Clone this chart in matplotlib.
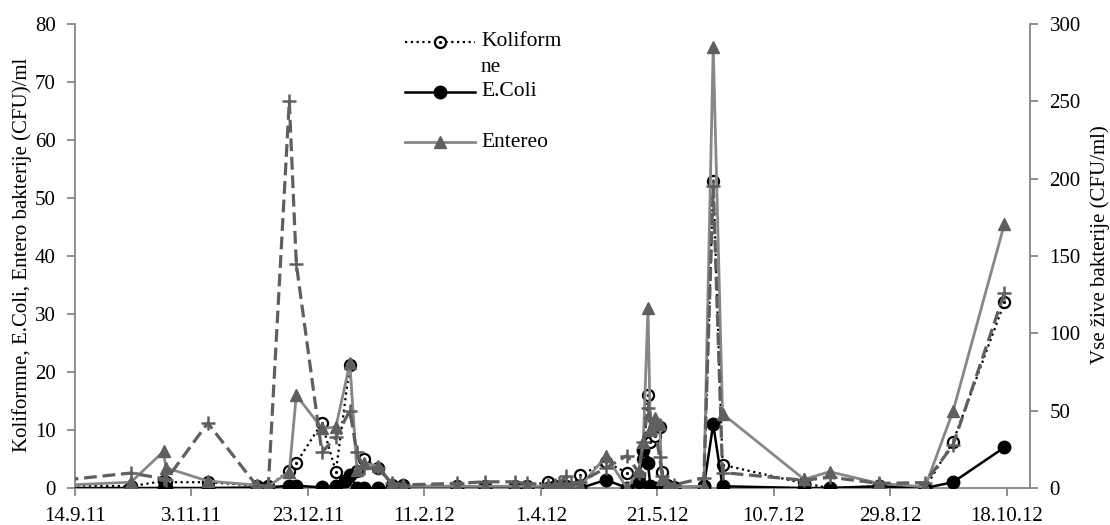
import numpy as np
import matplotlib
matplotlib.use("Agg")
import matplotlib.pyplot as plt
from matplotlib.lines import Line2D
from matplotlib.ticker import FixedLocator, FuncFormatter
import matplotlib.dates as mdates
from datetime import datetime, timedelta

# ---------------- data ----------------
dates = ["10.9.2011", "8.10.2011", "22.10.2011", "23.10.2011", "10.11.2011",
         "1.12.2011", "6.12.2011", "15.12.2011", "18.12.2011", "29.12.2011",
         "4.1.2012", "8.1.2012", "10.1.2012", "13.1.2012", "16.1.2012",
         "22.1.2012", "28.1.2012", "2.2.2012", "25.2.2012", "8.3.2012",
         "21.3.2012", "26.3.2012", "4.4.2012", "7.4.2012", "9.4.2012",
         "12.4.2012", "14.4.2012", "18.4.2012", "29.4.2012", "8.5.2012",
         "13.5.2012", "15.5.2012", "17.5.2012", "18.5.2012", "20.5.2012",
         "22.5.2012", "23.5.2012", "25.5.2012", "28.5.2012", "10.6.2012",
         "14.6.2012", "18.6.2012", "23.7.2012", "3.8.2012", "24.8.2012",
         "13.9.2012", "25.9.2012", "17.10.2012"]

nan = np.nan
koliformne = [0.5, 0.3, 1.2, 1.0, 1.0,
              0.4, 0.3, 3.0, 4.3, 11.2,
              2.8, nan, 21.2, 3.0, 5.0,
              3.5, 0.6, 0.5, 0.3, 0.3,
              0.3, 0.4, 1.0, 0.3, 0.2,
              0.3, 0.2, 2.2, 4.5, 2.6,
              2.0, 5.0, 16.0, 8.0, 9.0,
              10.5, 2.8, 0.5, 0.2, 0.3,
              53.0, 4.0, 0.8, 0.0, 0.3,
              0.0, 8.0, 32.0]
ecoli = [0.0, 0.0, 0.0, 0.0, 0.0,
         0.1, 0.1, 0.4, 0.4, 0.1,
         0.4, 1.2, 2.2, 0.0, 0.0,
         0.0, 0.0, 0.0, 0.0, 0.0,
         0.0, 0.0, 0.0, 0.0, 0.0,
         0.0, 0.0, 0.0, 1.4, 0.0,
         1.0, 6.5, 4.3, 0.3, 0.0,
         0.0, 0.0, 0.0, 0.0, 0.3,
         11.0, 0.3, 0.0, 0.0, 0.3,
         0.0, 1.0, 7.0]
entereo = [0.5, 1.0, 6.3, 3.5, 1.2,
           0.5, 0.3, 2.8, 16.0, 10.3,
           10.5, nan, 21.5, 3.1, 4.3,
           3.8, 0.8, 0.3, 0.3, 0.3,
           0.3, 0.3, 0.3, 0.2, 0.2,
           0.3, 0.2, 0.3, 5.5, 0.0,
           3.0, 8.0, 31.0, 10.0, 12.0,
           11.0, 1.5, 0.3, 0.2, 0.3,
           76.0, 12.8, 1.5, 2.8, 0.8,
           0.2, 13.3, 45.5]
vse_zive = [5.2, 9.7, 6.0, 5.0, 42.0,
            1.5, 1.5, 250.0, 145.0, 23.0,
            33.0, nan, 50.0, 23.0, 13.0,
            13.0, 3.0, 2.0, 3.0, 4.0,
            4.0, 3.0, 2.0, 2.0, 3.0,
            8.0, 3.0, 4.0, 13.0, 21.0,
            10.0, 30.0, 52.0, 45.0, 38.0,
            20.0, 8.0, 3.0, 2.0, 6.5,
            195.0, 10.0, 5.0, 7.0, 3.0,
            3.5, 28.0, 126.0]

legend_lines = [["Koliform", "ne"], ["E.Coli"], ["Entereo"]]
left_label = "Koliformne, E.Coli, Entero bakterije (CFU)/ml"
right_label = "Vse žive bakterije (CFU/ml)"
x_start = "14.9.2011"
x_end = "28.10.2012"
tick_step_days = 50
n_xticks = 9
left_ticks = list(range(0, 81, 10))
right_ticks = list(range(0, 301, 50))

# ---------------- figure ----------------
plt.rcParams["font.family"] = ["Liberation Serif", "DejaVu Serif"]

def pdate(s):
    return datetime.strptime(s, "%d.%m.%Y")

d = np.array([mdates.date2num(pdate(s)) for s in dates])

W, H = 1110, 525
fig = plt.figure(figsize=(W / 100, H / 100), dpi=100)
L, R, T, B = 75, 1030, 24, 488
ax = fig.add_axes([L / W, 1 - B / H, (R - L) / W, (B - T) / H])
ax2 = ax.twinx()

def plot_series(axis, vals, **kw):
    v = np.array(vals, dtype=float)
    m = ~np.isnan(v)
    return axis.plot(d[m], v[m], clip_on=True, **kw)

kol_style = dict(color="black", ls=(0, (1, 1.6)), lw=1.6, marker="o", ms=8,
                 mfc="white", mec="black", mew=1.6)
eco_style = dict(color="black", ls="-", lw=1.8, marker="o", ms=9,
                 mfc="black", mec="black")
ent_style = dict(color="#878787", ls="-", lw=2.0, marker="^", ms=8,
                 mfc="#5f5f5f", mec="#5f5f5f")
vse_style = dict(color="#5f5f5f", ls=(0, (4, 1.8)), lw=2.3, marker="+", ms=9.5,
                 mew=1.8, mec="#5f5f5f")

plot_series(ax, koliformne, zorder=3, **kol_style)
plot_series(ax, koliformne, color="black", ls="none", marker=".", ms=2.5, zorder=3.1)
plot_series(ax, ecoli, zorder=4, **eco_style)
plot_series(ax, entereo, zorder=5, **ent_style)
plot_series(ax2, vse_zive, zorder=3, **vse_style)

x0 = pdate(x_start)
ax.set_xlim(mdates.date2num(x0), mdates.date2num(pdate(x_end)))
ax.set_ylim(0, 80)
ax2.set_ylim(0, 300)

xt = [mdates.date2num(x0 + timedelta(days=tick_step_days * k)) for k in range(n_xticks)]
ax.xaxis.set_major_locator(FixedLocator(xt))

def fmt_date(v, pos=None):
    dt = mdates.num2date(v)
    return f"{dt.day}.{dt.month}.{dt.year % 100}"

ax.xaxis.set_major_formatter(FuncFormatter(fmt_date))
ax.set_yticks(left_ticks)
ax2.set_yticks(right_ticks)

gray = "#868686"
for a in (ax, ax2):
    a.spines["top"].set_visible(False)
    for s in a.spines.values():
        s.set_color(gray)
        s.set_linewidth(1.3)
ax2.spines["left"].set_visible(False)
ax2.spines["bottom"].set_visible(False)
ax.spines["right"].set_visible(False)

ax.tick_params(axis="both", direction="out", length=6, width=1.3, color=gray,
               labelsize=15, pad=8)
ax2.tick_params(axis="y", direction="out", length=6, width=1.3, color=gray,
                labelsize=15, pad=8)

fig.text(22 / W, 1 - 255 / H, left_label, rotation=90, ha="center", va="center",
         fontsize=15)
fig.text(1100 / W, 1 - 245 / H, right_label, rotation=90, ha="center", va="center",
         fontsize=15)

# ---------------- legend (drawn by hand, like the original layout) ----------------
def fx(px):
    return px / W

def fy(py):
    return 1 - py / H

leg_rows = [42, 92, 142]
leg_styles = [kol_style, eco_style, ent_style]
for py, st, lines in zip(leg_rows, leg_styles, legend_lines):
    line_kw = {k: st[k] for k in ("color", "ls", "lw")}
    fig.add_artist(Line2D([fx(405), fx(475)], [fy(py), fy(py)],
                          transform=fig.transFigure, **line_kw))
    mk_kw = {k: v for k, v in st.items() if k not in ("ls", "lw")}
    fig.add_artist(Line2D([fx(440)], [fy(py)], transform=fig.transFigure,
                          ls="none", **mk_kw))
    for i, txt in enumerate(lines):
        fig.text(fx(481), fy(py + 25 * i), txt, ha="left", va="center",
                 fontsize=15.5)
fig.add_artist(Line2D([fx(440)], [fy(42)], transform=fig.transFigure, ls="none",
                      marker=".", ms=2.5, color="black"))

fig.savefig("out.png", dpi=100)
